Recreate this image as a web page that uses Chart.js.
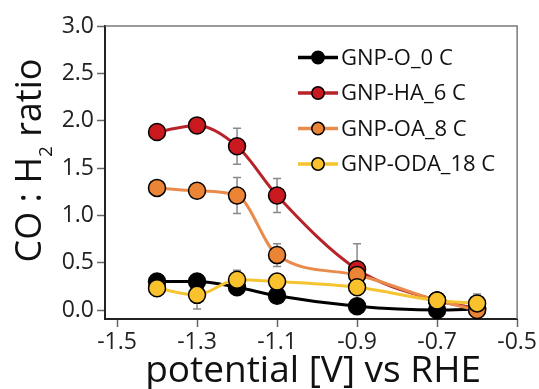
<!DOCTYPE html>
<html>
<head>
<meta charset="utf-8">
<script src="https://cdn.jsdelivr.net/npm/chart.js@4/dist/chart.umd.min.js"></script>
<style>
html,body{margin:0;padding:0;background:#fff}
#wrap{width:539px;height:389px}
</style>
</head>
<body>
<div id="wrap"><canvas id="c" width="539" height="389"></canvas></div>
<script>
// ── DATA ──
const potentials=[-1.4,-1.3,-1.2,-1.1,-0.9,-0.7,-0.6];
const seriesNames=['GNP-O_0 C','GNP-HA_6 C','GNP-OA_8 C','GNP-ODA_18 C'];
const ratioO  =[0.30,0.30,0.24,0.15,0.04,0.00,0.01];
const ratioHA =[1.88,1.95,1.73,1.21,0.43,0.10,0.02];
const ratioOA =[1.29,1.26,1.21,0.58,0.37,0.10,0.00];
const ratioODA=[0.23,0.16,0.32,0.30,0.24,0.10,0.07];
const errO  =[0,0,0,0,0,0,0];
const errHA =[0,0,0.19,0.18,0.27,0,0];
const errOA =[0,0,0.19,0.12,0,0,0];
const errODA=[0,0.15,0.10,0,0,0,0.10];
const xTicks=[-1.5,-1.3,-1.1,-0.9,-0.7,-0.5];
const yTicks=[0,0.5,1.0,1.5,2.0,2.5,3.0];
const xTitle='potential [V] vs RHE';
const yTitleParts=['CO : H','2',' ratio'];

const lineColors=['#000000','#b8232a','#e98b4c','#f4c431'];
const fillColors=['#000000','#c9191f','#ec8435','#f9c22c'];
const FONT='"Open Sans", sans-serif';

const allRatios=[ratioO,ratioHA,ratioOA,ratioODA];
const allErrs=[errO,errHA,errOA,errODA];

const datasets=allRatios.map((arr,i)=>({
  label:seriesNames[i],
  data:potentials.map((x,j)=>({x,y:arr[j]})),
  borderColor:lineColors[i],
  backgroundColor:fillColors[i],
  pointBackgroundColor:fillColors[i],
  pointBorderColor:'#000',
  pointBorderWidth:1.5,
  pointRadius:8.5,
  borderWidth:3,
  cubicInterpolationMode:'monotone',
  order:3-i,
  clip:false
}));

// error bars, frame, titles, legend
const extras={
  id:'extras',
  beforeDatasetsDraw(chart){
    const {ctx,chartArea:a,scales:{x,y}}=chart;
    ctx.save();
    ctx.strokeStyle='#7a7a7a';ctx.lineWidth=1.5;
    ctx.beginPath();ctx.moveTo(a.left,a.top);ctx.lineTo(a.right,a.top);ctx.lineTo(a.right,a.bottom);ctx.stroke();
    ctx.strokeStyle='#8a8a8a';ctx.lineWidth=1.5;
    allErrs.forEach((errs,i)=>{
      errs.forEach((e,j)=>{
        if(!e)return;
        const px=x.getPixelForValue(potentials[j]);
        const y1=y.getPixelForValue(allRatios[i][j]+e),y2=y.getPixelForValue(allRatios[i][j]-e);
        ctx.beginPath();
        ctx.moveTo(px,y1);ctx.lineTo(px,y2);
        ctx.moveTo(px-4,y1);ctx.lineTo(px+4,y1);
        ctx.moveTo(px-4,y2);ctx.lineTo(px+4,y2);
        ctx.stroke();
      });
    });
    ctx.restore();
  },
  afterDraw(chart){
    const {ctx,chartArea:a}=chart;
    ctx.save();
    ctx.fillStyle='#111';
    // x title
    ctx.font='37px '+FONT;ctx.textAlign='center';ctx.textBaseline='alphabetic';
    ctx.fillText(xTitle,(a.left+a.right)/2+2,382);
    // y title with subscript
    ctx.translate(41,160.5);ctx.rotate(-Math.PI/2);
    ctx.textAlign='left';
    ctx.font='36px '+FONT;
    const w0=ctx.measureText(yTitleParts[0]).width,w2=ctx.measureText(yTitleParts[2]).width;
    ctx.font='19px '+FONT;
    const w1=ctx.measureText(yTitleParts[1]).width;
    let sx=-(w0+w1+w2)/2;
    ctx.font='36px '+FONT;ctx.fillText(yTitleParts[0],sx,0);sx+=w0;
    ctx.font='19px '+FONT;ctx.fillText(yTitleParts[1],sx,11);sx+=w1;
    ctx.font='36px '+FONT;ctx.fillText(yTitleParts[2],sx,0);
    ctx.restore();
    // legend
    ctx.save();
    ctx.font='22px '+FONT;ctx.textBaseline='middle';ctx.textAlign='left';
    seriesNames.forEach((n,i)=>{
      const cy=57.5+i*35.5;
      ctx.strokeStyle=lineColors[i];ctx.lineWidth=3.5;
      ctx.beginPath();ctx.moveTo(298,cy);ctx.lineTo(338,cy);ctx.stroke();
      ctx.beginPath();ctx.arc(318,cy,6.2,0,Math.PI*2);
      ctx.fillStyle=fillColors[i];ctx.fill();
      ctx.strokeStyle='#000';ctx.lineWidth=1.5;ctx.stroke();
      ctx.fillStyle='#111';ctx.fillText(n,341,cy+1);
    });
    ctx.restore();
  }
};

new Chart(document.getElementById('c'),{
  type:'line',
  data:{datasets},
  plugins:[extras],
  options:{
    responsive:false,animation:false,devicePixelRatio:1,
    layout:{padding:{top:26,right:20,left:0,bottom:0}},
    plugins:{legend:{display:false},tooltip:{enabled:false}},
    scales:{
      x:{type:'linear',min:-1.53,max:-0.5,
        afterBuildTicks:s=>{s.ticks=xTicks.map(v=>({value:v}))},
        afterFit:s=>{s.height=70},
        ticks:{font:{family:FONT,size:23},color:'#222',padding:2,callback:v=>v.toFixed(1)},
        grid:{drawOnChartArea:false,drawTicks:true,tickLength:8,color:'#666',tickWidth:1.5},
        border:{display:true,color:'#222',width:2}},
      y:{type:'linear',min:-0.095,max:3.0,
        afterBuildTicks:s=>{s.ticks=yTicks.map(v=>({value:v}))},
        afterFit:s=>{s.width=105},
        ticks:{font:{family:FONT,size:23},color:'#222',padding:3,callback:v=>v.toFixed(1)},
        grid:{drawOnChartArea:false,drawTicks:true,tickLength:8,color:'#666',tickWidth:1.5},
        border:{display:true,color:'#222',width:2}}
    }
  }
});
</script>
</body>
</html>
